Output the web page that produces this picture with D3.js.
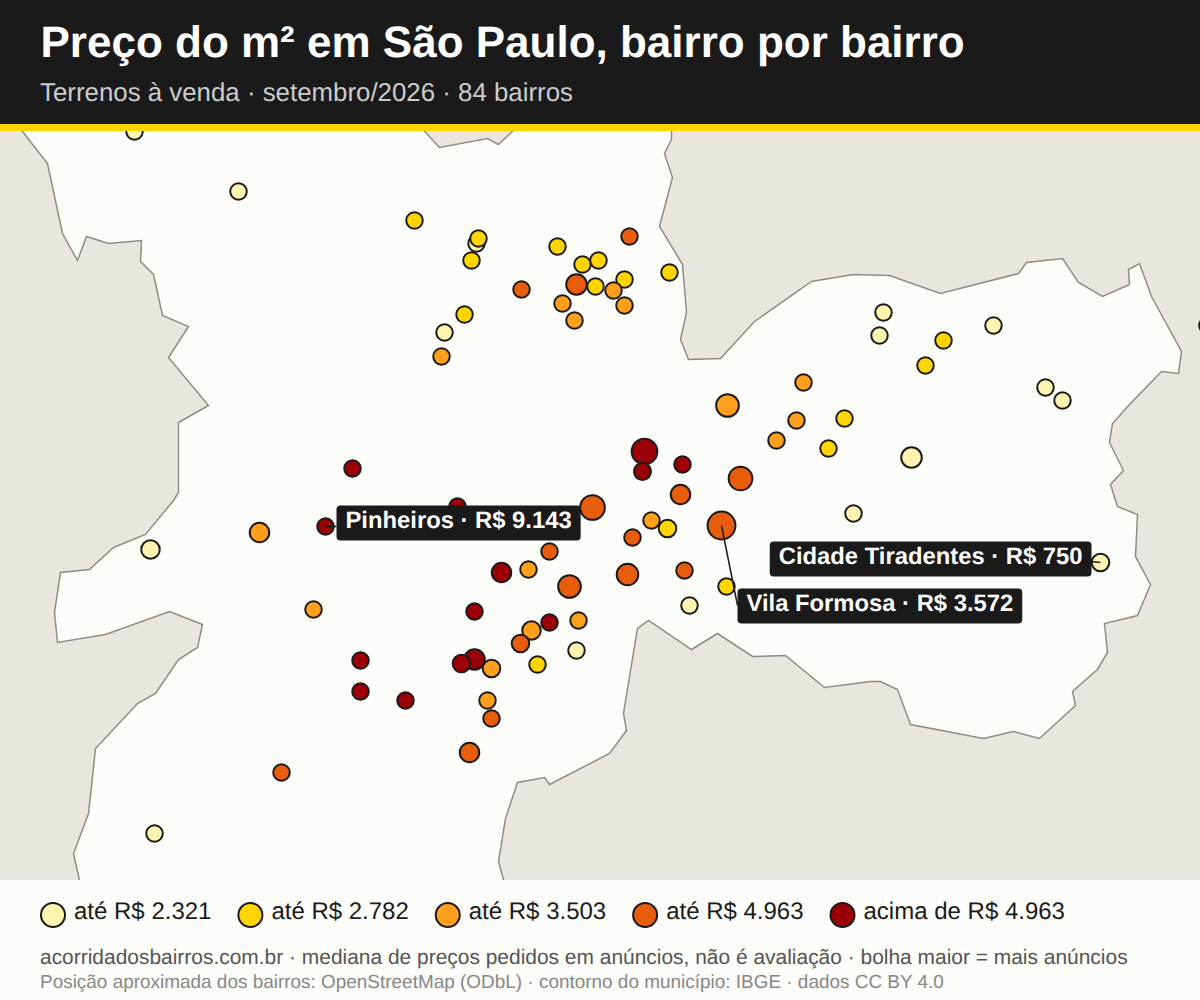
<!DOCTYPE html>
<html lang="pt-BR">
<head>
<meta charset="utf-8">
<title>Preço do m² em São Paulo</title>
<script src="https://cdn.jsdelivr.net/npm/d3@7"></script>
<style>
  html, body { margin: 0; padding: 0; background: #fcfcf8; }
  svg { display: block; font-family: "Liberation Sans", Arial, sans-serif; text-rendering: geometricPrecision; }
</style>
</head>
<body>
<svg id="chart" width="1200" height="1000"></svg>
<script>
// Values. Map positions are km east / km south of the sheet corner
var faixaLabels = ["até R$ 2.321", "até R$ 2.782", "até R$ 3.503", "até R$ 4.963", "acima de R$ 4.963"];
var faixaColors = ["#fff3b0", "#ffd500", "#ff9f1c", "#e85d0c", "#9b0008"];

var bairroEast = [33.5, 59.5, 103.5, 119, 119.5, 117.75, 139.25, 145.5, 149.5, 157.25, 130.25, 144, 148.75, 156, 153.25, 140.5, 156, 143.5, 167.25, 116, 111, 110.25,
  220.75, 219.75, 235.75, 248.25, 231.25, 261.25, 265.5, 200.75, 199, 211, 207, 227.75, 181.75, 194, 301.75,
  161, 160.5, 170.5, 185, 170, 180.25, 162.75, 166.75, 158, 156.75, 171, 181.5, 172.25, 213.25,
  88, 114.25, 81.25, 148, 137.25, 125.25, 132, 142.25, 78.25, 64.75, 37.5, 90, 90, 101.25, 70.25, 38.5,
  118.5, 137.25, 144.5, 144, 134.25, 132.75, 130, 118.5, 115.25, 122.75, 121.75, 122.75, 117.25, 275];
var bairroSouth = [32.75, 47.75, 55, 60.75, 59.5, 65, 61.5, 66, 65, 59, 72.25, 71, 71.5, 69.75, 72.5, 75.75, 76.25, 80, 68, 78.5, 83, 89,
  78, 83.75, 85, 81.25, 91.25, 96.75, 100, 95.5, 105, 104.5, 112, 114.25, 101.25, 110, 81.25,
  112.75, 117.75, 116, 119.5, 123.5, 131.25, 130, 132, 134.25, 143.5, 142.5, 146.5, 151.25, 128.25,
  117, 126.5, 131.5, 126.75, 137.75, 143, 142.25, 146.5, 152.25, 133, 137.25, 165, 172.75, 175, 193, 208.25,
  152.75, 155.5, 155, 162.5, 166, 157.5, 160.75, 164.75, 165.75, 167, 175, 179.5, 188, 140.5];
var bairroFaixa = [0, 0, 1, 0, 1, 1, 1, 1, 1, 3, 3, 3, 1, 1, 2, 2, 2, 2, 1, 1, 0, 2,
  0, 0, 1, 0, 1, 0, 0, 2, 2, 1, 1, 0, 2, 2, 0,
  4, 4, 4, 3, 3, 3, 2, 1, 3, 3, 3, 1, 0, 0,
  4, 4, 4, 3, 3, 4, 2, 3, 2, 2, 0, 4, 4, 4, 3, 0,
  4, 4, 2, 0, 1, 2, 3, 4, 4, 2, 2, 3, 3, 0];
var bairroAnuncios = [38, 38, 38, 38, 38, 38, 38, 38, 38, 38, 38, 59, 38, 38, 38, 38, 38, 38, 38, 38, 38, 38,
  38, 38, 38, 38, 38, 38, 38, 38, 38, 38, 38, 59, 72, 38, 38,
  92, 40, 38, 78, 53, 108, 38, 43, 38, 65, 38, 38, 38, 38,
  38, 38, 38, 85, 38, 53, 38, 72, 38, 53, 48, 38, 38, 38, 38, 38,
  38, 38, 38, 38, 38, 48, 43, 59, 43, 43, 38, 38, 53, 43];

var destaqueNomes = ["Pinheiros", "Vila Formosa", "Cidade Tiradentes"];
var destaquePrecos = ["R$ 9.143", "R$ 3.572", "R$ 750"];
var destaqueIndice = [53, 42, 80];

// municipal outline, km east / km south
var contorno = [[3.75,30.5],[5.5,32.75],[11.75,40.75],[15.5,58.25],[19.25,65],[21.5,59],[27,60.75],[35.25,60],[35,65.25],[38.25,68.5],[40.5,78.75],[47,81.5],[42,89.25],[52,101.25],[44.5,105.5],[44.5,123],[43.25,125],[36.25,133.5],[28.25,136.75],[22.25,142.25],[15,143],[13.5,153],[14.25,160.5],[26.25,158.5],[42.25,152.75],[50.5,156],[49.25,161.75],[44.5,164.75],[38.75,173.25],[34.25,175.75],[23.75,187],[22,203.25],[18.25,213.25],[19.75,220],[20.25,222.5],
  [125.75,222.5],[125.75,219.75],[124.5,215.25],[126.25,204.5],[129.25,195.5],[136,194.25],[137.25,196],[152.25,188.25],[156.5,182.5],[155.75,178.25],[159.25,157],[162,155],[172.75,162.25],[179.25,158.25],[188,164],[196.25,163.75],[206,171.75],[217.5,170.25],[220,170.25],[224.25,172.25],[227.5,181],[245.75,184.5],[253.25,182.75],[259.75,184.5],[268.75,176.25],[268,172.75],[274.25,167.25],[276.75,163],[276,155.75],[284.25,153.75],[287.5,146],[283.75,139],[284.25,128.5],[279.25,126.5],[277.5,121],[280.75,117.5],[277.25,110.5],[278,105.75],[282.5,100.75],[290.25,92.75],[294.5,93.25],[295.25,87.75],[287.75,74],[284.75,65.75],[282,67.25],[282.25,71],[275.5,74],[269.5,70.5],[265.5,64.5],[256.5,65.5],[254.5,68.25],[235,73.25],[222.25,68.75],[213.25,68.5],[202.75,70.25],[188.5,80.25],[180,89.5],[172,89.75],[170,84.75],[171.5,78],[170.5,66],[164.75,56.5],[168,44.25],[166,38.25],[167.75,34.75],[167.75,30.5],
  [130.25,30.5],[124.5,36],[121.75,34.5],[109.75,36.75],[104,30.5]];

var svg = d3.select("#chart");
var ink = "#1a1a1a";

var x = d3.scaleLinear().domain([0, 300]).range([0.5, 1200.5]);
var y = d3.scaleLinear().domain([32.5, 220]).range([130.5, 880.5]);
var r = d3.scaleSqrt().domain([0, 100]).range([0, 13.4]);
var color = d3.scaleOrdinal().domain(d3.range(faixaLabels.length)).range(faixaColors);

//----------------------
// map background
//----------------------
svg.append("rect").attr("width", 1200).attr("height", 1000).attr("fill", "#e9e6e0");

var line = d3.line().x(function(d) { return x(d[0]); }).y(function(d) { return y(d[1]); });
svg.append("path")
    .datum(contorno)
    .attr("d", function(d) { return line(d) + "Z"; })
    .attr("fill", "#fcfcf8")
    .attr("stroke", "#8f8c85")
    .attr("stroke-width", 1.5);

//----------------------
// bubbles, big ones first
//----------------------
var bairros = bairroEast.map(function(e, i) {
    return {east: e, south: bairroSouth[i], faixa: bairroFaixa[i], anuncios: bairroAnuncios[i]};
});
var ordem = d3.range(bairros.length).sort(function(a, b) {
    return d3.descending(bairros[a].anuncios, bairros[b].anuncios) || a - b;
});

svg.append("g").selectAll("circle")
    .data(ordem.map(function(i) { return bairros[i]; }))
    .enter().append("circle")
    .attr("cx", function(d) { return x(d.east); })
    .attr("cy", function(d) { return y(d.south); })
    .attr("r", function(d) { return r(d.anuncios); })
    .attr("fill", function(d) { return color(d.faixa); })
    .attr("stroke", ink)
    .attr("stroke-width", 2);

//----------------------
// labelled neighbourhoods
//----------------------
var boxHeight = 35, boxPad = 9;
// box edge and centre, relative to the bubble; side -1 means the box sits to the left
var placement = [
    {side: 1, dx: 11, dy: -3.5, endY: 0},
    {side: 1, dx: 16, dy: 80.5, endY: 80},
    {side: -1, dx: -9, dy: -3.5, endY: -1}
];

destaqueNomes.forEach(function(nome, i) {
    var d = bairros[destaqueIndice[i]];
    var p = placement[i];
    var px = x(d.east), py = y(d.south);
    var g = svg.append("g");
    var rect = g.append("rect").attr("fill", ink).attr("rx", 4).attr("height", boxHeight);
    var text = g.append("text")
        .text(nome + " · " + destaquePrecos[i])
        .attr("fill", "#fff")
        .attr("font-weight", "bold")
        .attr("font-size", 23.8)
        .attr("y", py + p.dy + 5);
    var w = text.node().getComputedTextLength() + boxPad * 2;
    var left = p.side > 0 ? px + p.dx : px + p.dx - w;
    rect.attr("x", left).attr("y", py + p.dy - boxHeight / 2).attr("width", w);
    text.attr("x", left + boxPad);
    g.insert("line", "rect")
        .attr("x1", px).attr("y1", py)
        .attr("x2", px + p.dx).attr("y2", py + p.endY)
        .attr("stroke", ink)
        .attr("stroke-width", 1.5);
});

//----------------------
// header
//----------------------
svg.append("rect").attr("width", 1200).attr("height", 124).attr("fill", ink);
svg.append("rect").attr("y", 124).attr("width", 1200).attr("height", 7).attr("fill", "#ffd500");
svg.append("text").attr("x", 40.5).attr("y", 57)
    .attr("fill", "#fff").attr("font-weight", "bold").attr("font-size", 44)
    .text("Preço do m² em São Paulo, bairro por bairro");
svg.append("text").attr("x", 40).attr("y", 100.5)
    .attr("fill", "#ccc").attr("font-size", 25.85)
    .text("Terrenos à venda · setembro/2026 · 84 bairros");

//----------------------
// footer with legend
//----------------------
svg.append("rect").attr("y", 880).attr("width", 1200).attr("height", 120).attr("fill", "#fcfcf8");

var legendX = d3.scalePoint().domain(d3.range(faixaLabels.length)).range([53, 842.5]);
var legend = svg.append("g").selectAll("g")
    .data(faixaLabels)
    .enter().append("g")
    .attr("transform", function(d, i) { return "translate(" + legendX(i) + ",915)"; });
legend.append("circle")
    .attr("r", 12)
    .attr("fill", function(d, i) { return color(i); })
    .attr("stroke", ink)
    .attr("stroke-width", 2);
legend.append("text")
    .attr("x", 21).attr("y", 3.5)
    .attr("fill", ink).attr("font-size", 24)
    .text(function(d) { return d; });

svg.append("text").attr("x", 40).attr("y", 964)
    .attr("fill", "#555").attr("font-size", 20.94)
    .text("acorridadosbairros.com.br · mediana de preços pedidos em anúncios, não é avaliação · bolha maior = mais anúncios");
svg.append("text").attr("x", 40).attr("y", 988)
    .attr("fill", "#888").attr("font-size", 18.96)
    .text("Posição aproximada dos bairros: OpenStreetMap (ODbL) · contorno do município: IBGE · dados CC BY 4.0");
</script>
</body>
</html>
